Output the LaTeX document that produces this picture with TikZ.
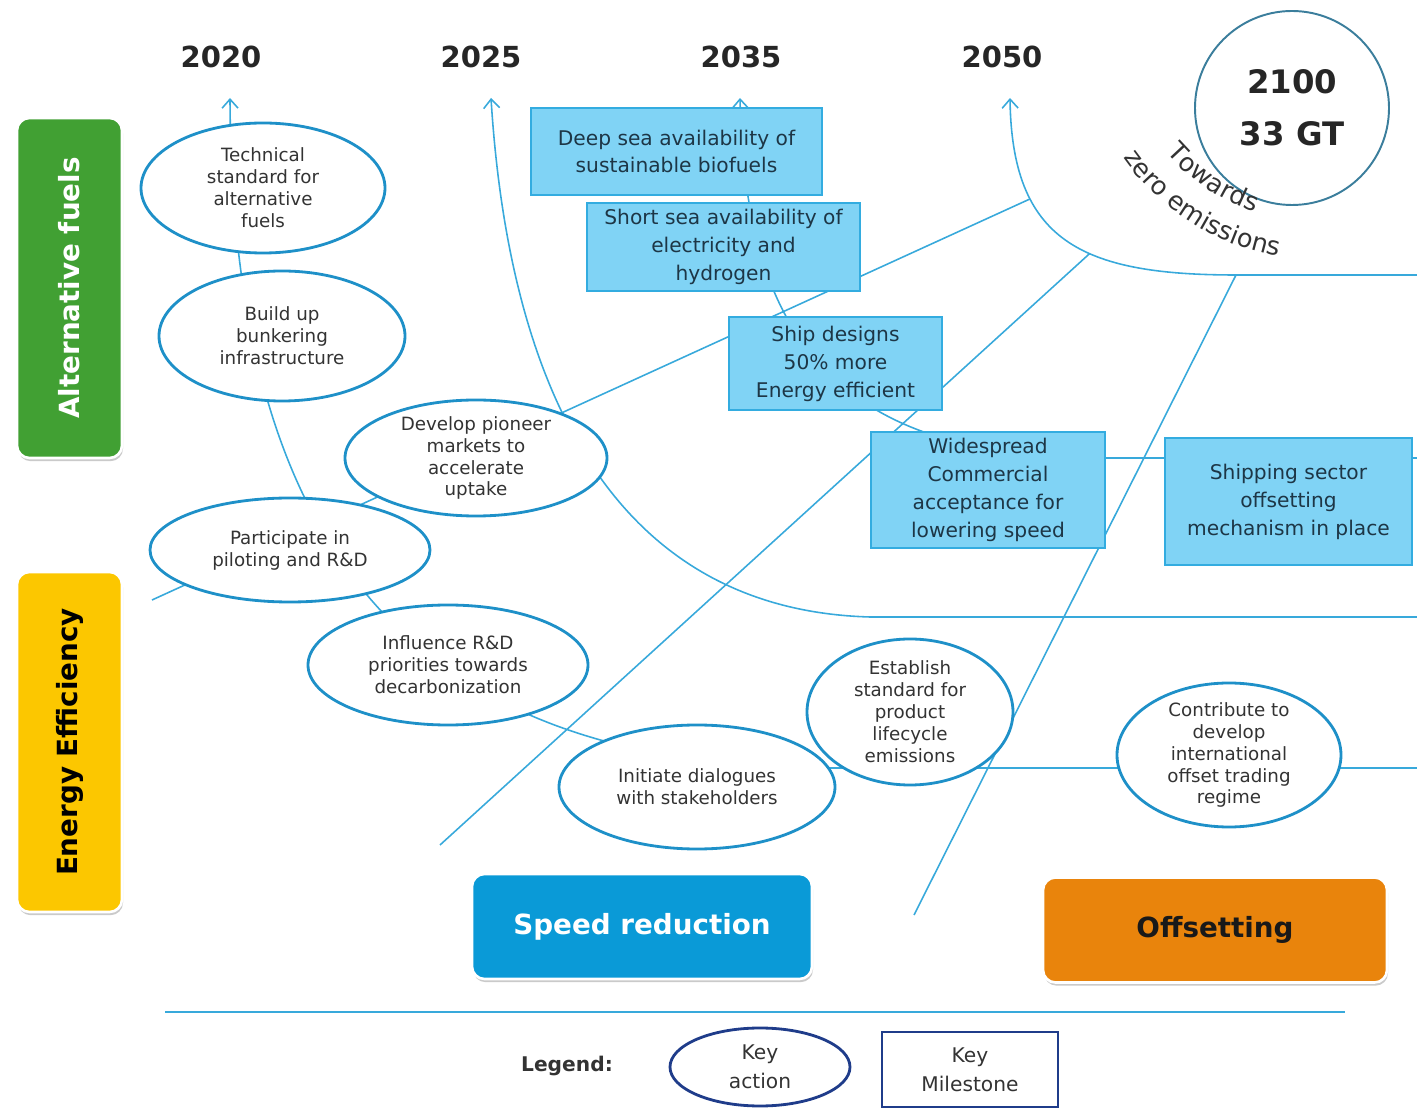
\documentclass[tikz,border=0pt]{standalone}
\usepackage{fontspec}
\setmainfont{DejaVu Sans}
\usepackage{xcolor}
\usepackage{tikz}
\usetikzlibrary{shapes,arrows.meta,positioning,shadows,decorations.text}

\definecolor{roadline}{HTML}{38A9DB}
\definecolor{actionblue}{HTML}{1E90C8}
\definecolor{milefill}{HTML}{80D3F5}
\definecolor{miledraw}{HTML}{33ACE0}
\definecolor{miletext}{HTML}{1D3646}
\definecolor{fuelgreen}{HTML}{41A033}
\definecolor{effyellow}{HTML}{FCC700}
\definecolor{speedblue}{HTML}{0A9AD7}
\definecolor{offorange}{HTML}{E9840C}
\definecolor{legendnavy}{HTML}{1F3C8A}
\definecolor{goalring}{HTML}{3B7E9C}
\definecolor{yeartext}{HTML}{262626}
\definecolor{actiontext}{HTML}{333333}

\begin{document}
\begin{tikzpicture}[x=0.2mm, y=-0.2mm,
    >={Straight Barb[length=1.8mm,width=3.2mm]},
    road/.style={draw=roadline, line width=0.9pt},
    year/.style={font=\fontsize{16.5}{20}\selectfont\bfseries, text=yeartext},
    action/.style={ellipse, draw=actionblue, line width=1.6pt, fill=white, text=actiontext,
        align=center, inner xsep=0pt, inner ysep=-3pt, font=\fontsize{10.4}{12.5}\selectfont},
    milestone/.style={rectangle, draw=miledraw, line width=1pt, fill=milefill, text=miletext,
        align=center, inner sep=0pt, font=\fontsize{11.5}{15.9}\selectfont},
    category/.style={rectangle, rounded corners=2.5mm, draw=white, line width=1.5pt,
        font=\fontsize{15.8}{18}\selectfont\bfseries,
        drop shadow={shadow xshift=0.6pt, shadow yshift=-1.8pt, opacity=0.35, fill=black!60}}
]
    \useasboundingbox (0,0) rectangle (1417,1109);

    % Arrow tips, junctions and line ends
    \coordinate (t2020) at (230,98);
    \coordinate (t2025) at (491,98);
    \coordinate (t2035) at (740,98);
    \coordinate (t2050) at (1010,98);
    \coordinate (e2020) at (1417,768);
    \coordinate (e2025) at (1417,617);
    \coordinate (e2035) at (1417,458);
    \coordinate (e2050) at (1417,275);
    \coordinate (sa) at (152,600);
    \coordinate (sb) at (440,845);
    \coordinate (sc) at (914,915);

    % Roads towards the years
    \draw[road,<-] (t2020) .. controls (232,560) and (420,768) .. (830,768) -- (e2020);
    \draw[road,<-] (t2025) .. controls (510,400) and (620,610) .. (870,617) -- (e2025);
    \draw[road,<-] (t2035) .. controls (745,330) and (830,458) .. (1100,458) -- (e2035);
    \draw[road,<-] (t2050) .. controls (1012,240) and (1080,275) ..
        coordinate[pos=0.3] (ja) coordinate[pos=0.6] (jb) (1236,275) coordinate (jc) -- (e2050);

    % Diagonals
    \draw[road] (sa) -- (ja);
    \draw[road] (sb) -- (jb);
    \draw[road] (sc) -- (jc);

    % Years
    \node[year] (yr2020) at (221,57) {2020};
    \node[year] (yr2025) at (481,57) {2025};
    \node[year] (yr2035) at (741,57) {2035};
    \node[year] (yr2050) at (1002,57) {2050};

    % Goal
    \node[circle, draw=goalring, line width=1.1pt, minimum size=38.8mm, align=center, text=yeartext,
        font=\fontsize{18.4}{29.5}\selectfont\bfseries] (goal) at (1292,108) {2100\\33 GT};
    \coordinate (arcc) at (1320,20);
    \path[decorate, decoration={text along path, text align=center,
        text={|\fontsize{14.5}{15}\selectfont\color{actiontext}|Towards}}]
        (arcc) ++(140:203) arc[start angle=140, end angle=108, radius=203];
    \path[decorate, decoration={text along path, text align=center,
        text={|\fontsize{14.5}{15}\selectfont\color{actiontext}|zero emissions}}]
        (arcc) ++(150:240) arc[start angle=150, end angle=95, radius=240];

    % Key actions
    \node[action, minimum width=48.8mm, minimum height=26mm] (tech) at (263,188)
        {Technical\\standard for\\alternative\\fuels};
    \node[action, minimum width=49.2mm, minimum height=26mm] (bunker) at (282,336)
        {Build up\\bunkering\\infrastructure};
    \node[action, minimum width=52.4mm, minimum height=23.2mm] (pioneer) at (476,458)
        {Develop pioneer\\markets to\\accelerate\\uptake};
    \node[action, minimum width=56mm, minimum height=20.8mm] (pilot) at (290,550)
        {Participate in\\piloting and R\&D};
    \node[action, minimum width=56mm, minimum height=24mm] (influence) at (448,665)
        {Influence R\&D\\priorities towards\\decarbonization};
    \node[action, minimum width=55.2mm, minimum height=24.8mm] (dialogue) at (697,787)
        {Initiate dialogues\\with stakeholders};
    \node[action, minimum width=41.2mm, minimum height=29.2mm] (lifecycle) at (910,712)
        {Establish\\standard for\\product\\lifecycle\\emissions};
    \node[action, minimum width=44.8mm, minimum height=28.8mm] (trading) at (1229,755)
        {Contribute to\\develop\\international\\offset trading\\regime};

    % Key milestones
    \node[milestone, minimum width=58.2mm, minimum height=17.4mm] (deepsea) at (676.5,151.5)
        {Deep sea availability of\\sustainable biofuels};
    \node[milestone, minimum width=54.6mm, minimum height=17.6mm] (shortsea) at (723.5,247)
        {Short sea availability of\\electricity and\\hydrogen};
    \node[milestone, minimum width=42.6mm, minimum height=18.6mm] (design) at (835.5,363.5)
        {Ship designs\\50\% more\\Energy efficient};
    \node[milestone, minimum width=46.8mm, minimum height=23.2mm] (lowspeed) at (988,490)
        {Widespread\\Commercial\\acceptance for\\lowering speed};
    \node[milestone, minimum width=49.4mm, minimum height=25.4mm] (offmech) at (1288.5,501.5)
        {Shipping sector\\offsetting\\mechanism in place};

    % Categories
    \node[category, fill=fuelgreen, text=white, rotate=90, minimum width=68mm, minimum height=21mm]
        (altfuel) at (69.5,288) {Alternative fuels};
    \node[category, fill=effyellow, text=black, rotate=90, minimum width=68mm, minimum height=21mm]
        (energy) at (69.5,742) {Energy Efficiency};
    \node[category, fill=speedblue, text=white, minimum width=68mm, minimum height=21mm]
        (speed) at (642,926.5) {Speed reduction};
    \node[category, fill=offorange, text=black!90, minimum width=68.8mm, minimum height=21mm]
        (offset) at (1215,930) {Offsetting};

    % Legend
    \draw[roadline, line width=1pt] (165,1012) -- (1345,1012);
    \node[font=\fontsize{11.5}{14}\selectfont\bfseries, text=actiontext] (legend) at (567,1066) {Legend:};
    \node[ellipse, draw=legendnavy, line width=1.6pt, minimum width=36mm, minimum height=15.6mm,
        align=center, inner sep=0pt, text=actiontext, font=\fontsize{11.5}{16.4}\selectfont]
        (keyaction) at (760,1067) {Key\\action};
    \node[rectangle, draw=legendnavy, line width=1.3pt, minimum width=35.2mm, minimum height=15mm,
        align=center, inner sep=0pt, text=actiontext, font=\fontsize{11.5}{16.4}\selectfont]
        (keymile) at (970,1069.5) {Key\\Milestone};
\end{tikzpicture}
\end{document}
